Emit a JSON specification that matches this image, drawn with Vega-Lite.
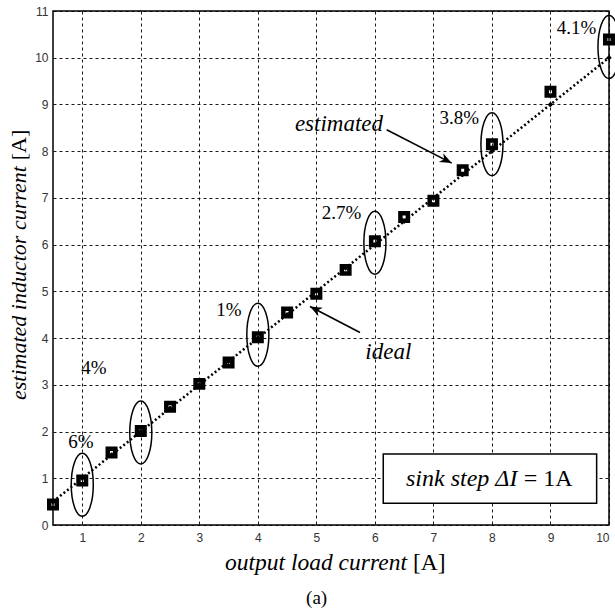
{
  "$schema": "https://vega.github.io/schema/vega-lite/v6.json",
  "width": 556,
  "height": 514,
  "autosize": {"type": "none"},
  "padding": {"left": 53, "top": 11, "right": 6, "bottom": 85},
  "background": "white",
  "config": {
    "view": {"stroke": "black", "strokeWidth": 1.5},
    "axis": {
      "grid": true, "gridColor": "black", "gridDash": [3, 3], "gridWidth": 1, "gridOpacity": 0.9,
      "domain": false, "ticks": false, "labelFont": "Liberation Sans", "labelFontSize": 12,
      "labelColor": "#333", "title": null, "format": "d"
    }
  },
  "datasets": {
    "estimated": [
      {"load": 0.5, "current": 0.44}, {"load": 1, "current": 0.95}, {"load": 1.5, "current": 1.55},
      {"load": 2, "current": 2.01}, {"load": 2.5, "current": 2.53}, {"load": 3, "current": 3.02},
      {"load": 3.5, "current": 3.48}, {"load": 4, "current": 4.02}, {"load": 4.5, "current": 4.55},
      {"load": 5, "current": 4.95}, {"load": 5.5, "current": 5.46}, {"load": 6, "current": 6.07},
      {"load": 6.5, "current": 6.59}, {"load": 7, "current": 6.94}, {"load": 7.5, "current": 7.59},
      {"load": 8, "current": 8.15}, {"load": 9, "current": 9.27}, {"load": 10, "current": 10.39}
    ],
    "ideal": [
      {"load": 0.5, "current": 0.5}, {"load": 1, "current": 1}, {"load": 1.5, "current": 1.5},
      {"load": 2, "current": 2}, {"load": 2.5, "current": 2.5}, {"load": 3, "current": 3},
      {"load": 3.5, "current": 3.5}, {"load": 4, "current": 4}, {"load": 4.5, "current": 4.5},
      {"load": 5, "current": 5}, {"load": 5.5, "current": 5.5}, {"load": 6, "current": 6},
      {"load": 6.5, "current": 6.5}, {"load": 7, "current": 7}, {"load": 7.5, "current": 7.5},
      {"load": 8, "current": 8}, {"load": 9, "current": 9}, {"load": 10, "current": 10}
    ],
    "ellipses": [
      {"load": 1, "current": 0.86}, {"load": 2, "current": 1.98}, {"load": 4, "current": 4.07},
      {"load": 6, "current": 6.04}, {"load": 8, "current": 8.15}, {"load": 10, "current": 10.23}
    ],
    "percent": [
      {"load": 0.975, "current": 1.78, "label": "6%"},
      {"load": 1.2, "current": 3.36, "label": "4%"},
      {"load": 3.507, "current": 4.6, "label": "1%"},
      {"load": 5.432, "current": 6.687, "label": "2.7%"},
      {"load": 7.442, "current": 8.71, "label": "3.8%"},
      {"load": 9.447, "current": 10.64, "label": "4.1%"}
    ],
    "words": [
      {"load": 5.386, "current": 8.437, "label": "estimated"},
      {"load": 6.229, "current": 3.548, "label": "ideal"}
    ],
    "arrows": [
      {"name": "estimated", "load": 6.201, "current": 8.458, "load2": 7.312, "current2": 7.745},
      {"name": "ideal", "load": 5.745, "current": 4.118, "load2": 4.891, "current2": 4.675}
    ],
    "box": [{"load": 6.143, "load2": 9.789, "current": 0.465, "current2": 1.52}],
    "texts": [
      {"part": "boxItalic", "load": 6.531, "current": 0.835, "label": "sink step ΔI"},
      {"part": "boxUpright", "load": 9.379, "current": 0.835, "label": "= 1A"},
      {"part": "xTitle", "load": 3.439, "current": -0.964, "label": "output load current"},
      {"part": "xUnit", "load": 6.651, "current": -0.964, "label": "[A]"},
      {"part": "yTitle", "load": 0.0387, "current": 2.676, "label": "estimated inductor current"},
      {"part": "yUnit", "load": 0.0387, "current": 8.458, "label": "[A]"},
      {"part": "caption", "load": 5.005, "current": -1.69, "label": "(a)"}
    ]
  },
  "layer": [
    {
      "data": {"name": "ideal"},
      "mark": {"type": "line", "color": "black", "strokeWidth": 2.5, "strokeDash": [2, 2.5]},
      "encoding": {
        "x": {"field": "load", "type": "quantitative",
              "scale": {"domain": [0.5, 10], "nice": false, "zero": false},
              "axis": {"values": [1, 2, 3, 4, 5, 6, 7, 8, 9, 10], "labelPadding": 7}},
        "y": {"field": "current", "type": "quantitative",
              "scale": {"domain": [0, 11], "nice": false, "zero": false},
              "axis": {"values": [0, 1, 2, 3, 4, 5, 6, 7, 8, 9, 10, 11], "labelPadding": 5}}
      }
    },
    {
      "data": {"name": "ideal"},
      "mark": {"type": "point", "shape": "diamond", "filled": true, "color": "black", "size": 30, "opacity": 1},
      "encoding": {
        "x": {"field": "load", "type": "quantitative"},
        "y": {"field": "current", "type": "quantitative"}
      }
    },
    {
      "data": {"name": "ellipses"},
      "mark": {"type": "point", "shape": "M0,-1A0.35,1,0,1,1,0,1A0.35,1,0,1,1,0,-1Z", "filled": false,
               "stroke": "black", "strokeWidth": 1.5, "size": 3969, "opacity": 1},
      "encoding": {
        "x": {"field": "load", "type": "quantitative"},
        "y": {"field": "current", "type": "quantitative"}
      }
    },
    {
      "data": {"name": "estimated"},
      "mark": {"type": "point", "shape": "square", "filled": false, "stroke": "black", "strokeWidth": 4.5, "size": 56, "opacity": 1},
      "encoding": {
        "x": {"field": "load", "type": "quantitative"},
        "y": {"field": "current", "type": "quantitative"}
      }
    },
    {
      "data": {"name": "box"},
      "mark": {"type": "rect", "fill": "white", "stroke": "black", "strokeWidth": 1.5},
      "encoding": {
        "x": {"field": "load", "type": "quantitative"},
        "x2": {"field": "load2"},
        "y": {"field": "current", "type": "quantitative"},
        "y2": {"field": "current2"}
      }
    },
    {
      "data": {"name": "percent"},
      "mark": {"type": "text", "font": "Liberation Serif", "fontSize": 19, "color": "black", "align": "center", "baseline": "middle"},
      "encoding": {
        "x": {"field": "load", "type": "quantitative"},
        "y": {"field": "current", "type": "quantitative"},
        "text": {"field": "label"}
      }
    },
    {
      "data": {"name": "words"},
      "mark": {"type": "text", "font": "Liberation Serif", "fontStyle": "italic", "fontSize": 23, "color": "black", "align": "center", "baseline": "alphabetic"},
      "encoding": {
        "x": {"field": "load", "type": "quantitative"},
        "y": {"field": "current", "type": "quantitative"},
        "text": {"field": "label"}
      }
    },
    {
      "data": {"name": "arrows"},
      "mark": {"type": "rule", "color": "black", "strokeWidth": 1.6},
      "encoding": {
        "x": {"field": "load", "type": "quantitative"},
        "y": {"field": "current", "type": "quantitative"},
        "x2": {"field": "load2"},
        "y2": {"field": "current2"}
      }
    },
    {
      "data": {"name": "arrows"},
      "transform": [{"filter": "datum.name === 'estimated'"}],
      "mark": {"type": "point", "shape": "M0,0L-1,-0.4L-0.7,0L-1,0.4Z", "filled": true, "color": "black", "size": 576, "angle": 27.1, "opacity": 1},
      "encoding": {
        "x": {"field": "load2", "type": "quantitative"},
        "y": {"field": "current2", "type": "quantitative"}
      }
    },
    {
      "data": {"name": "arrows"},
      "transform": [{"filter": "datum.name === 'ideal'"}],
      "mark": {"type": "point", "shape": "M0,0L-1,-0.4L-0.7,0L-1,0.4Z", "filled": true, "color": "black", "size": 576, "angle": 207.5, "opacity": 1},
      "encoding": {
        "x": {"field": "load2", "type": "quantitative"},
        "y": {"field": "current2", "type": "quantitative"}
      }
    },
    {
      "data": {"name": "texts"},
      "transform": [{"filter": "datum.part === 'boxItalic'"}],
      "mark": {"type": "text", "font": "Liberation Serif", "fontStyle": "italic", "fontSize": 24, "color": "black", "align": "left", "baseline": "alphabetic"},
      "encoding": {
        "x": {"field": "load", "type": "quantitative"},
        "y": {"field": "current", "type": "quantitative"},
        "text": {"field": "label"}
      }
    },
    {
      "data": {"name": "texts"},
      "transform": [{"filter": "datum.part === 'boxUpright'"}],
      "mark": {"type": "text", "font": "Liberation Serif", "fontSize": 24, "color": "black", "align": "right", "baseline": "alphabetic"},
      "encoding": {
        "x": {"field": "load", "type": "quantitative"},
        "y": {"field": "current", "type": "quantitative"},
        "text": {"field": "label"}
      }
    },
    {
      "data": {"name": "texts"},
      "transform": [{"filter": "datum.part === 'xTitle'"}],
      "mark": {"type": "text", "font": "Liberation Serif", "fontStyle": "italic", "fontSize": 23.5, "color": "black", "align": "left", "baseline": "alphabetic"},
      "encoding": {
        "x": {"field": "load", "type": "quantitative"},
        "y": {"field": "current", "type": "quantitative"},
        "text": {"field": "label"}
      }
    },
    {
      "data": {"name": "texts"},
      "transform": [{"filter": "datum.part === 'xUnit'"}],
      "mark": {"type": "text", "font": "Liberation Serif", "fontSize": 23.5, "color": "black", "align": "left", "baseline": "alphabetic"},
      "encoding": {
        "x": {"field": "load", "type": "quantitative"},
        "y": {"field": "current", "type": "quantitative"},
        "text": {"field": "label"}
      }
    },
    {
      "data": {"name": "texts"},
      "transform": [{"filter": "datum.part === 'caption'"}],
      "mark": {"type": "text", "font": "Liberation Serif", "fontSize": 19, "color": "black", "align": "center", "baseline": "alphabetic"},
      "encoding": {
        "x": {"field": "load", "type": "quantitative"},
        "y": {"field": "current", "type": "quantitative"},
        "text": {"field": "label"}
      }
    },
    {
      "data": {"name": "texts"},
      "transform": [{"filter": "datum.part === 'yTitle'"}],
      "mark": {"type": "text", "font": "Liberation Serif", "fontStyle": "italic", "fontSize": 22, "color": "black", "align": "left", "baseline": "alphabetic", "angle": 270},
      "encoding": {
        "x": {"field": "load", "type": "quantitative"},
        "y": {"field": "current", "type": "quantitative"},
        "text": {"field": "label"}
      }
    },
    {
      "data": {"name": "texts"},
      "transform": [{"filter": "datum.part === 'yUnit'"}],
      "mark": {"type": "text", "font": "Liberation Serif", "fontSize": 22, "color": "black", "align": "right", "baseline": "alphabetic", "angle": 270},
      "encoding": {
        "x": {"field": "load", "type": "quantitative"},
        "y": {"field": "current", "type": "quantitative"},
        "text": {"field": "label"}
      }
    }
  ]
}
